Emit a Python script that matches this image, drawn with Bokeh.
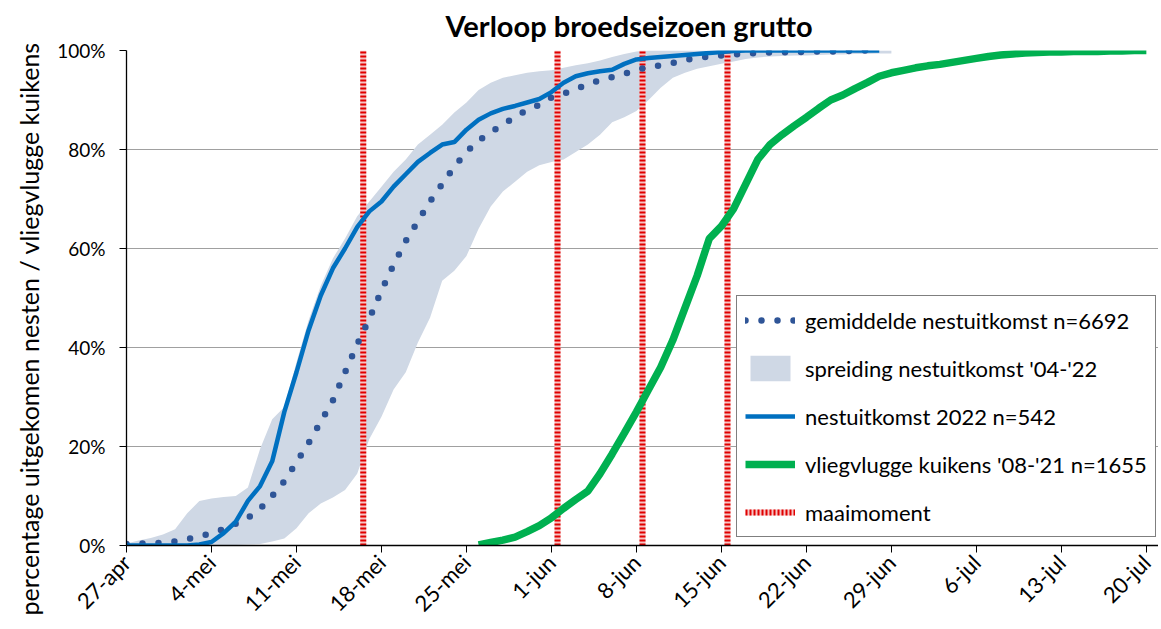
import math
from bokeh.plotting import figure
from bokeh.models import (Range1d, FixedTicker, PrintfTickFormatter, Legend,
                          LegendItem, Title)
from bokeh.embed import file_html
from bokeh.resources import INLINE

# ---------------- data ----------------
tick_labels = ["27-apr", "4-mei", "11-mei", "18-mei", "25-mei", "1-jun", "8-jun",
               "15-jun", "22-jun", "29-jun", "6-jul", "13-jul", "20-jul"]

# day index 0 = 27-apr
mean_start = 0
mean_vals = [0.3, 0.4, 0.4, 0.6, 0.8, 1.3, 1.8, 2.5, 3.3, 4.4,
             5.6, 7.4, 10, 13, 16.8, 20.7, 25, 29.3, 35, 40.6,
             45.8, 51.5, 56.7, 61.5, 65.5, 69.5, 73, 76.5, 79.5, 81.8,
             83.5, 85, 86.6, 88, 89, 90.5, 91.3, 92.2, 93.2, 94,
             94.6, 95.3, 96, 96.7, 97, 97.5, 98.1, 98.5, 98.8, 99,
             99.2, 99.4, 99.5, 99.6, 99.6, 99.7, 99.7, 99.8, 99.8, 99.9,
             99.9, 100, 100]

band_start = 0
band_lower = [0, 0, 0, 0, 0, 0, 0, 0, 0, 0.1,
              0.2, 0.3, 0.8, 1.4, 3.5, 6.5, 8.5, 9.7, 11.2, 14.5,
              21.5, 26, 31.5, 35, 41, 46, 53.5, 55.5, 58.5, 64,
              68.5, 71.5, 73.5, 75.5, 76.8, 77.5, 78, 79.5, 81, 83,
              85.5, 86.5, 87.8, 90, 92.5, 94.5, 95.5, 96.3, 96.8, 97.3,
              97.8, 98.3, 98.6, 98.8, 98.9, 99, 99, 99.1, 99.2, 99.2,
              99.3, 99.3, 99.4, 99.4]
band_upper = [0.4, 1, 1.5, 2.2, 3.3, 6.5, 9, 9.5, 9.8, 10,
              11.7, 19.5, 25.5, 28, 37, 45.5, 52.5, 58, 62, 66.5,
              69.5, 72.5, 75.5, 78, 81, 83, 85, 87.5, 89.5, 92,
              93.5, 94.5, 95, 95.5, 95.8, 96, 96.5, 97, 97.4, 98,
              98.7, 99.3, 99.8, 100, 100, 100, 100, 100, 100, 100,
              100, 100, 100, 100, 100, 100, 100, 100, 100, 100,
              100, 100, 100, 100]

nest2022_start = 0
nest2022_vals = [0, 0, 0, 0, 0, 0, 0.2, 0.7, 2.5, 4.8,
                 9, 12, 17, 27, 35, 43.5, 50.5, 56, 60, 64.3,
                 67.5, 69.5, 72.5, 75, 77.5, 79.3, 81, 81.5, 84, 86,
                 87.3, 88.2, 88.8, 89.5, 90.2, 91.6, 93.5, 94.8, 95.4, 95.8,
                 96.1, 97.3, 98.2, 98.5, 98.7, 98.9, 99.1, 99.3, 99.5, 99.7,
                 99.9, 100, 100, 100, 100, 100, 100, 100, 100, 100,
                 100, 100, 100]

fledge_start = 29
fledge_vals = [0.1, 0.6, 1.1, 1.7, 2.8, 4, 5.6, 7.5, 9.3, 11,
               14.5, 18.5, 22.7, 27, 31.5, 36, 41.5, 48, 54.5, 62,
               64.5, 68, 73, 78, 81, 83, 84.8, 86.5, 88.3, 90,
               91, 92.3, 93.5, 94.8, 95.5, 96, 96.5, 96.9, 97.2, 97.6,
               98, 98.4, 98.8, 99.1, 99.3, 99.5, 99.6, 99.7, 99.7, 99.8,
               99.8, 99.8, 99.9, 99.9, 100, 100]

mow_days = [19.5, 35.5, 42.5, 49.5]

y_ticks = [0, 20, 40, 60, 80, 100]

# ---------------- figure ----------------
FONT = "Lato"

p = figure(width=1158, height=629, output_backend="svg", toolbar_location=None,
           x_range=Range1d(0, 85), y_range=Range1d(0, 100),
           min_border_left=126, min_border_right=0, min_border_top=50,
           min_border_bottom=84)

p.title.text = "Verloop broedseizoen grutto"
p.title.align = "left"
p.title.offset = 319
p.title.vertical_align = "top"
p.title.text_font = FONT
p.title.text_font_size = "29px"
p.title.text_font_style = "bold"
p.title.text_color = "black"
p.title.standoff = 12

ytitle = Title(text="percentage  uitgekomen nesten  / vliegvlugge  kuikens",
               align="left", offset=-70, standoff=22,
               text_font=FONT, text_font_size="25px", text_font_style="normal",
               text_color="black")
p.add_layout(ytitle, "left")

p.outline_line_color = None
p.xgrid.visible = False
p.ygrid.grid_line_color = "#a0a0a0"
p.ygrid.grid_line_width = 1

xt = [i * 7 for i in range(len(tick_labels))]
p.xaxis.ticker = FixedTicker(ticks=xt)
p.xaxis.major_label_overrides = {t: lab for t, lab in zip(xt, tick_labels)}
p.xaxis.major_label_orientation = math.pi / 4
p.yaxis.ticker = FixedTicker(ticks=y_ticks)
p.yaxis.formatter = PrintfTickFormatter(format="%d%%")

for ax in (p.xaxis, p.yaxis):
    ax.axis_line_color = "black"
    ax.axis_line_width = 1.3
    ax.major_tick_line_color = "black"
    ax.major_tick_out = 7
    ax.major_tick_in = 0
    ax.minor_tick_line_color = None
    ax.major_label_text_font = FONT
    ax.major_label_text_color = "black"
p.yaxis.major_label_text_font_size = "19px"
p.yaxis.major_label_standoff = 14
p.xaxis.major_label_text_font_size = "22px"
p.xaxis.major_label_standoff = 6

# ---------------- glyphs ----------------
band_days = list(range(band_start, band_start + len(band_lower)))
band = p.varea(x=band_days, y1=band_lower, y2=band_upper, fill_color="#cfd8e5")

n = len(mow_days)
mow_base = p.segment(x0=mow_days, y0=[0] * n, x1=mow_days, y1=[100] * n,
                     line_color="#f6c4c4", line_width=6)
mow_dash = p.segment(x0=mow_days, y0=[0] * n, x1=mow_days, y1=[100] * n,
                     line_color="#e00000", line_width=6, line_dash="2 2")

fledge_days = list(range(fledge_start, fledge_start + len(fledge_vals)))
green = p.line(fledge_days, fledge_vals, line_color="#00b050", line_width=7.5)

mean_days = list(range(mean_start, mean_start + len(mean_vals)))
mean = p.line(mean_days, mean_vals, line_color="#2f5597", line_width=6.5,
              line_dash="0 16", line_cap="round")

nest_days = list(range(nest2022_start, nest2022_start + len(nest2022_vals)))
blue = p.line(nest_days, nest2022_vals, line_color="#0070c0", line_width=4.5)

legend = Legend(items=[
    LegendItem(label="gemiddelde nestuitkomst n=6692", renderers=[mean]),
    LegendItem(label="spreiding nestuitkomst '04-'22", renderers=[band]),
    LegendItem(label="nestuitkomst 2022 n=542", renderers=[blue]),
    LegendItem(label="vliegvlugge kuikens '08-'21 n=1655", renderers=[green]),
    LegendItem(label="maaimoment", renderers=[mow_base, mow_dash]),
], location=(610, 8))
legend.border_line_color = "black"
legend.border_line_width = 1
legend.background_fill_color = "white"
legend.background_fill_alpha = 1
legend.label_text_font = FONT
legend.label_text_font_size = "22px"
legend.label_text_color = "black"
legend.glyph_width = 50
legend.glyph_height = 32
legend.spacing = 16
legend.padding = 8
legend.margin = 0
legend.label_standoff = 10
p.add_layout(legend)

open("out.html", "w").write(file_html(p, INLINE))
